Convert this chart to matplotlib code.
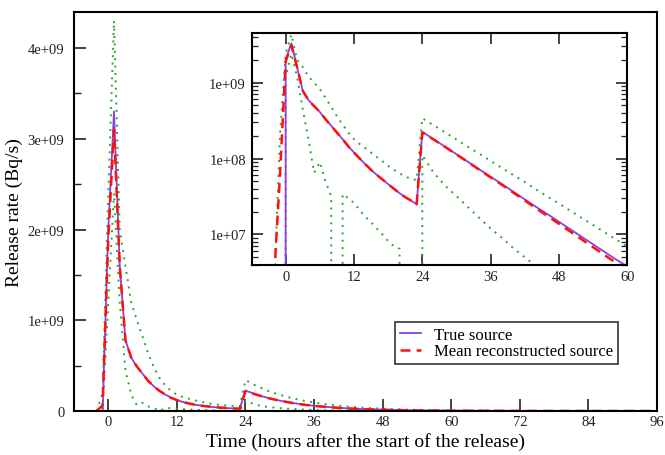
import math
import matplotlib
matplotlib.use("Agg")
import matplotlib.pyplot as plt
from matplotlib.ticker import MultipleLocator, FixedLocator, FuncFormatter, LogLocator, NullFormatter

plt.rcParams['font.family'] = ['Liberation Serif', 'DejaVu Serif']

# true source (Bq/s), hourly up to 24 h, then every 2 h
t_true = [-2, -1, 0, 1, 2, 3, 4, 5, 6, 7, 8, 9, 10, 11, 12, 13, 14, 15, 16, 17, 18, 19, 20, 21, 22, 23,
          24, 26, 28, 30, 32, 34, 36, 38, 40, 42, 44, 46, 48, 50, 52, 54, 56, 58, 60, 62, 72, 84, 96]
true_src = [0, 0, 2.0e9, 3.3e9, 1.6e9, 7.8e8, 5.9e8, 4.9e8, 4.1e8, 3.3e8, 2.7e8, 2.2e8, 1.8e8, 1.45e8,
            1.2e8, 1.0e8, 8.4e7, 7.1e7, 6.1e7, 5.3e7, 4.6e7, 4.0e7, 3.5e7, 3.1e7, 2.8e7, 2.5e7,
            2.25e8, 1.79e8, 1.43e8, 1.14e8, 9.1e7, 7.2e7, 5.75e7, 4.6e7, 3.65e7, 2.9e7, 2.3e7, 1.85e7,
            1.47e7, 1.17e7, 9.3e6, 7.4e6, 5.9e6, 4.7e6, 3.8e6, 3.0e6, 1.0e6, 2.6e5, 6.5e4]

# mean reconstructed source
mean_src = [3e6, 6e7, 1.9e9, 3.1e9, 1.6e9, 7.8e8, 5.9e8, 4.9e8, 4.1e8, 3.3e8, 2.7e8, 2.2e8, 1.8e8, 1.45e8,
            1.2e8, 1.0e8, 8.4e7, 7.1e7, 6.1e7, 5.3e7, 4.6e7, 4.0e7, 3.5e7, 3.1e7, 2.8e7, 2.5e7,
            2.2e8, 1.78e8, 1.42e8, 1.13e8, 9.0e7, 7.1e7, 5.65e7, 4.5e7, 3.55e7, 2.8e7, 2.2e7, 1.75e7,
            1.38e7, 1.09e7, 8.6e6, 6.8e6, 5.35e6, 4.25e6, 3.4e6, 2.7e6, 9e5, 2.3e5, 5.5e4]

# upper bound
t_up = [-2, -1, 0, 1, 2, 3, 4, 5, 6, 7, 8, 9, 10, 11, 12, 13, 14, 15, 16, 17, 18, 19, 20, 21, 22, 23,
        24, 26, 28, 30, 32, 34, 36, 38, 40, 42, 44, 46, 48, 50, 52, 54, 56, 58, 60, 62, 72, 96]
upper = [2e6, 2e8, 2.4e9, 4.3e9, 2.0e9, 1.6e9, 1.2e9, 1.0e9, 8.2e8, 6.3e8, 4.8e8, 3.6e8, 2.8e8, 2.2e8,
         1.8e8, 1.55e8, 1.37e8, 1.2e8, 1.05e8, 9.2e7, 8.0e7, 7.1e7, 6.4e7, 5.8e7, 5.4e7, 5.2e7,
         3.4e8, 2.74e8, 2.21e8, 1.78e8, 1.43e8, 1.16e8, 9.3e7, 7.5e7, 6.05e7, 4.9e7, 3.9e7, 3.15e7,
         2.55e7, 2.05e7, 1.65e7, 1.33e7, 1.07e7, 8.6e6, 6.9e6, 5.6e6, 1.9e6, 1.4e5]

# lower bound
t_low = [-2, -1, 0, 1, 2, 3, 4, 5, 6, 7, 8, 9, 10, 11, 12, 13, 14, 15, 16, 17, 18, 19, 20, 21, 23,
         24, 26, 28, 30, 32, 34, 36, 38, 40, 42, 44, 48, 60, 96]
lower = [0, 0, 1.2e9, 2.4e9, 1.2e9, 4.5e8, 1.8e8, 6.5e7, 9e7, 5e7, 3.2e7, 0, 3.4e7, 3.0e7, 2.6e7, 2.1e7,
         1.7e7, 1.45e7, 1.2e7, 1.0e7, 8.2e6, 7.0e6, 6.5e6, 0, 0,
         1.1e8, 6.5e7, 4.4e7, 3.2e7, 2.3e7, 1.65e7, 1.2e7, 9e6, 6.6e6, 5e6, 3.8e6, 2.5e6, 8e5, 2e4]

purple = '#8c40e0'
red = '#ff1010'
green = '#2aa52a'

fig = plt.figure(figsize=(6.65, 4.56), dpi=100)
ax = fig.add_axes([74 / 665, 1 - 412 / 456, 583 / 665, 399.3 / 456])


def draw(a):
    a.plot(t_up, upper, color=green, lw=1.4, ls=(0, (1, 2.8)))
    a.plot(t_low, lower, color=green, lw=1.4, ls=(0, (1, 2.8)))
    a.plot(t_true, true_src, color=purple, lw=1.3, label='True source')
    a.plot(t_true, mean_src, color=red, lw=1.8, ls=(0, (4, 2.5)), label='Mean reconstructed source')


draw(ax)
ax.set_xlim(-6, 96)
ax.set_ylim(0, 4.4e9)
ax.xaxis.set_major_locator(MultipleLocator(12))
ax.yaxis.set_major_locator(MultipleLocator(1e9))
ax.yaxis.set_minor_locator(MultipleLocator(5e8))
ax.yaxis.set_major_formatter(FuncFormatter(lambda v, p: '0' if v == 0 else '%de+09' % round(v / 1e9)))
ax.tick_params(which='both', direction='in', top=False, right=False, labelsize=10.5, colors='#222222')
ax.tick_params(which='major', length=8.5, width=1.2)
ax.tick_params(which='minor', length=5, width=1.0)
ax.tick_params(axis='y', pad=7)
ax.tick_params(axis='x', pad=3)
for s in ax.spines.values():
    s.set_linewidth(1.5)
ax.set_xlabel('Time (hours after the start of the release)', fontsize=14, labelpad=3)
ax.set_ylabel('Release rate (Bq/s)', fontsize=14, labelpad=3)

leg = ax.legend(loc='upper left', bbox_to_anchor=(395 / 665, 1 - 323 / 456), bbox_transform=fig.transFigure,
                fontsize=12, frameon=True, fancybox=False, handlelength=1.25, handletextpad=0.8,
                labelspacing=0.02, borderpad=0.3, borderaxespad=0)
leg.get_frame().set_edgecolor('black')
leg.get_frame().set_linewidth(1.2)

# inset, log scale
ins = fig.add_axes([251.5 / 665, 1 - 265.7 / 456, 375.8 / 665, 231.7 / 456])
draw(ins)
ins.set_yscale('log')
ins.set_xlim(-6, 60)
ins.set_ylim(4e6, 4.5e9)
ins.xaxis.set_major_locator(MultipleLocator(12))
ins.yaxis.set_major_locator(FixedLocator([1e7, 1e8, 1e9]))
ins.yaxis.set_minor_locator(LogLocator(base=10, subs=range(2, 10)))
ins.yaxis.set_minor_formatter(NullFormatter())
ins.yaxis.set_major_formatter(FuncFormatter(lambda v, p: '1e+%02d' % round(math.log10(v))))
ins.tick_params(which='both', direction='in', top=True, right=True, labelsize=10.5, colors='#222222', pad=4)
ins.tick_params(which='major', length=8, width=1.2)
ins.tick_params(which='minor', length=4, width=0.9)
for s in ins.spines.values():
    s.set_linewidth(1.5)

fig.savefig('out.png', dpi=100)
